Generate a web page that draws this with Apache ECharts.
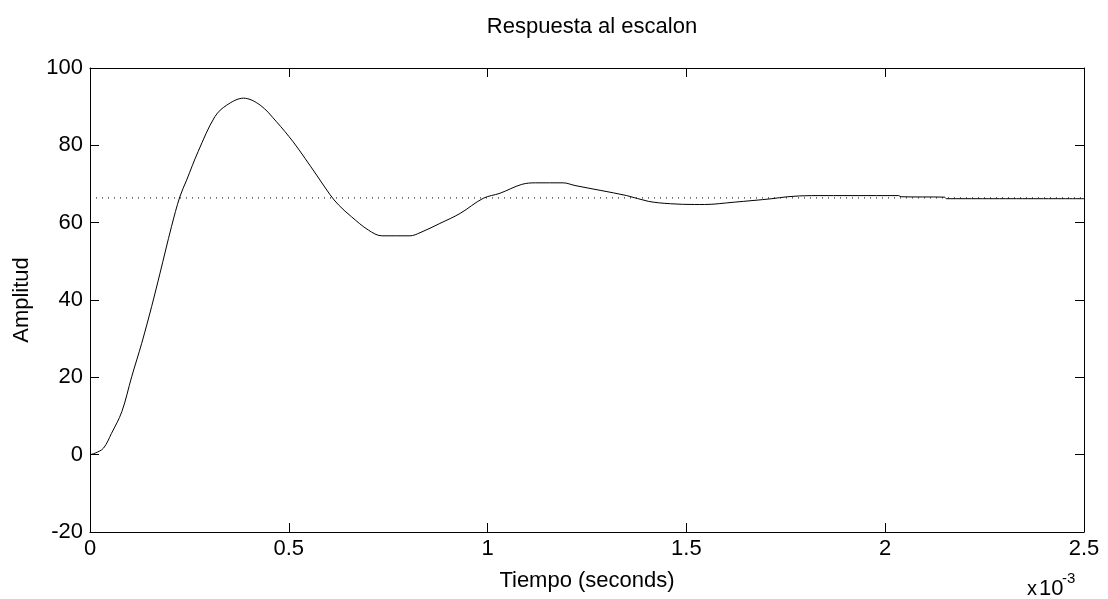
<!DOCTYPE html>
<html>
<head>
<meta charset="utf-8">
<script src="https://cdn.jsdelivr.net/npm/echarts@6/dist/echarts.min.js"></script>
<style>
html,body{margin:0;padding:0;background:#fff;}
#chart{width:1108px;height:599px;}
</style>
</head>
<body>
<div id="chart"></div>
<script>
// Time in units of 1e-3 s
const timeMs = [0, 0.013, 0.034, 0.054, 0.080, 0.105, 0.130, 0.155, 0.176, 0.205, 0.226, 0.243, 0.272, 0.314, 0.344, 0.386, 0.428, 0.469, 0.511, 0.541, 0.570, 0.604, 0.625, 0.658, 0.700, 0.734, 0.805, 0.830, 0.880, 0.931, 0.989, 1.031, 1.086, 1.121, 1.190, 1.220, 1.350, 1.405, 1.460, 1.520, 1.545, 1.620, 1.715, 1.754, 1.814, 2.034, 2.040, 2.149, 2.154, 2.5];
const amplitude = [0, 0.4, 1.7, 5.5, 11.1, 20.2, 28.8, 38.3, 46.9, 59.0, 66.7, 71.0, 78.4, 87.4, 90.4, 92.2, 90.4, 86.1, 80.9, 76.6, 72.3, 67.2, 64.6, 61.5, 58.1, 56.6, 56.6, 57.4, 59.8, 62.4, 66.3, 67.6, 69.9, 70.3, 70.3, 69.6, 67.0, 65.5, 64.9, 64.7, 64.7, 65.3, 66.2, 66.7, 67.0, 67.0, 66.7, 66.6, 66.2, 66.2];
const steadyStateValue = 66.4;
const steadyStateRange = [0, 2.5];
const titleText = 'Respuesta al escalon';
const xAxisName = 'Tiempo (seconds)';
const yAxisName = 'Amplitud';
const xExponentTimes = 'x';
const xExponentBase = '10';
const xExponent = '-3';

const FONT = '"Liberation Sans", Arial, Helvetica, sans-serif';
const FS = 22;
const chart = echarts.init(document.getElementById('chart'), null, {renderer: 'canvas'});

const stepData = timeMs.map((t, i) => [t, amplitude[i]]);
const steadyData = steadyStateRange.map(t => [t, steadyStateValue]);

const baseX = {
  type: 'value', min: 0, max: 2.5, interval: 0.5,
  axisLine: {show: true, onZero: false, lineStyle: {color: '#000', width: 1}},
  axisTick: {show: true, inside: true, length: 9, lineStyle: {color: '#000', width: 1}},
  splitLine: {show: false}
};
const baseY = {
  type: 'value', min: -20, max: 100, interval: 20,
  axisLine: {show: true, onZero: false, lineStyle: {color: '#000', width: 1}},
  axisTick: {show: true, inside: true, length: 9, lineStyle: {color: '#000', width: 1}},
  splitLine: {show: false}
};

const option = {
  backgroundColor: '#fff',
  animation: false,
  title: {
    text: titleText, left: 587, top: 11, textAlign: 'center',
    textStyle: {fontFamily: FONT, fontSize: FS, fontWeight: 'normal', color: '#000'}
  },
  grid: {left: 90, right: 24, top: 68, bottom: 67, show: false},
  xAxis: [
    Object.assign({}, baseX, {
      position: 'bottom',
      axisLabel: {color: '#000', fontFamily: FONT, fontSize: FS, margin: 6},
      name: xAxisName, nameLocation: 'middle', nameGap: 38,
      nameTextStyle: {fontFamily: FONT, fontSize: FS, color: '#000'}
    }),
    Object.assign({}, baseX, {position: 'top', axisLabel: {show: false}})
  ],
  yAxis: [
    Object.assign({}, baseY, {
      position: 'left',
      axisLabel: {color: '#000', fontFamily: FONT, fontSize: FS, margin: 7},
      name: yAxisName, nameLocation: 'middle', nameGap: 57,
      nameTextStyle: {fontFamily: FONT, fontSize: FS, color: '#000'}
    }),
    Object.assign({}, baseY, {position: 'right', axisLabel: {show: false}})
  ],
  graphic: [
    {type: 'text', left: 1027, top: 579,
     style: {text: xExponentTimes, font: '20px ' + FONT, fill: '#000'}},
    {type: 'text', left: 1039, top: 578,
     style: {text: xExponentBase, font: '22px ' + FONT, fill: '#000'}},
    {type: 'text', left: 1062, top: 571,
     style: {text: xExponent, font: '15px ' + FONT, fill: '#000'}}
  ],
  series: [
    {
      type: 'line', data: steadyData, xAxisIndex: 0, yAxisIndex: 0,
      showSymbol: false, symbol: 'none',
      lineStyle: {color: '#000', width: 1, type: [1, 5]},
      silent: true, z: 2
    },
    {
      type: 'line', data: stepData, xAxisIndex: 0, yAxisIndex: 0,
      showSymbol: false, symbol: 'none', smooth: 0.35,
      lineStyle: {color: '#000', width: 1},
      silent: true, z: 3
    }
  ]
};
chart.setOption(option);
</script>
</body>
</html>
